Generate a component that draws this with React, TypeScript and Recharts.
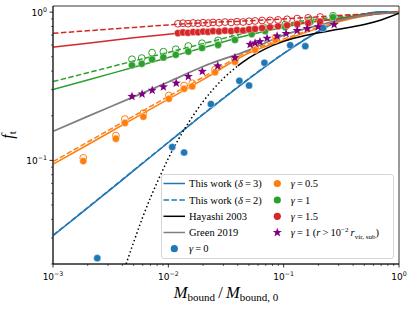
import React from 'react';
import { ComposedChart, Line, Scatter, XAxis, YAxis, Legend, ReferenceArea } from 'recharts';

// model curves, all sampled on the same bound-mass grid
const lineMass = [0.001, 0.002, 0.005, 0.01, 0.02, 0.05, 0.1, 0.2, 0.3, 0.5, 0.7, 1];
const blueDelta3 = [0.031, 0.0478, 0.0852, 0.132, 0.204, 0.355, 0.525, 0.74, 0.87, 0.97, 1.005, 1.0];
const blueDelta2 = [0.0312, 0.0481, 0.0857, 0.1327, 0.205, 0.357, 0.527, 0.742, 0.872, 0.971, 1.005, 1.0];
const orangeDelta3 = [0.094, 0.1275, 0.191, 0.259, 0.351, 0.53, 0.645, 0.78, 0.86, 0.94, 0.98, 1.0];
const orangeDelta2 = [0.098, 0.133, 0.199, 0.27, 0.364, 0.545, 0.66, 0.79, 0.865, 0.945, 0.98, 1.0];
const greenDelta3 = [0.3, 0.348, 0.425, 0.494, 0.575, 0.7, 0.79, 0.87, 0.91, 0.96, 0.985, 1.0];
const greenDelta2 = [0.34, 0.39, 0.468, 0.535, 0.613, 0.735, 0.83, 0.9, 0.93, 0.97, 0.99, 1.0];
const redDelta3 = [0.58, 0.617, 0.671, 0.71, 0.745, 0.775, 0.82, 0.87, 0.9, 0.95, 0.98, 1.0];
const redDelta2 = [0.72, 0.749, 0.789, 0.82, 0.848, 0.875, 0.9, 0.93, 0.95, 0.97, 0.99, 1.0];
const green2019 = [0.157, 0.198, 0.268, 0.338, 0.43, 0.555, 0.7, 0.815, 0.88, 0.95, 0.98, 0.99];

const hayashiMass = [0.04, 0.05, 0.07, 0.1, 0.15, 0.2, 0.3, 0.5, 0.7, 1];
const hayashiFt = [0.434, 0.491, 0.568, 0.635, 0.693, 0.725, 0.766, 0.825, 0.886, 0.984];
const hayashiLowMass = [0.0043, 0.005, 0.006, 0.007, 0.008, 0.01, 0.012, 0.015, 0.02, 0.03, 0.04];
const hayashiLowFt = [0.02, 0.028, 0.0415, 0.056, 0.071, 0.103, 0.135, 0.18, 0.249, 0.357, 0.434];

// simulation points
const gamma0Mass = [0.00242, 0.0108, 0.0137, 0.0234, 0.0413, 0.0501, 0.0681, 0.114, 0.154, 0.22];
const gamma0Ft = [0.0219, 0.123, 0.113, 0.24, 0.344, 0.32, 0.455, 0.598, 0.589, 0.78];

const gamma05Mass = [0.00183, 0.00351, 0.0042, 0.00607, 0.0101, 0.0137, 0.0161, 0.0254, 0.0378, 0.0565, 0.085];
const gamma05Ft = [0.099, 0.14, 0.179, 0.197, 0.26, 0.304, 0.315, 0.393, 0.462, 0.556, 0.65];
const gamma05OpenFt = [0.104, 0.147, 0.19, 0.208, 0.274, 0.32, 0.331, 0.41, 0.48, 0.575, 0.67];

const gamma1Mass = [0.00484, 0.00588, 0.00723, 0.00906, 0.0116, 0.0149, 0.0196, 0.027, 0.0378, 0.0528, 0.069, 0.103, 0.17, 0.268];
const gamma1Ft = [0.438, 0.448, 0.48, 0.495, 0.515, 0.542, 0.573, 0.601, 0.649, 0.711, 0.745, 0.793, 0.857, 0.925];
const gamma1OpenFt = [0.481, 0.49, 0.533, 0.541, 0.562, 0.591, 0.617, 0.645, 0.69, 0.75, 0.78, 0.825, 0.885, 0.945];

const gamma15Mass = [0.0121, 0.0134, 0.0148, 0.0164, 0.0181, 0.02, 0.0221, 0.0244, 0.0275, 0.031, 0.035, 0.0394, 0.0445, 0.0501, 0.0565, 0.065, 0.0762, 0.0894, 0.107, 0.131, 0.163, 0.207];
const gamma15Ft = [0.722, 0.73, 0.726, 0.734, 0.731, 0.74, 0.736, 0.745, 0.741, 0.75, 0.746, 0.757, 0.752, 0.765, 0.77, 0.781, 0.79, 0.803, 0.815, 0.83, 0.845, 0.862];
const gamma15OpenFt = [0.835, 0.842, 0.836, 0.845, 0.84, 0.848, 0.843, 0.852, 0.848, 0.857, 0.852, 0.862, 0.858, 0.868, 0.872, 0.878, 0.88, 0.886, 0.895, 0.905, 0.915, 0.928];

const outerMass = [0.00484, 0.00592, 0.00725, 0.00906, 0.0117, 0.0149, 0.0197, 0.0268, 0.0378, 0.0512, 0.0565, 0.0623, 0.0718, 0.0877, 0.105, 0.131, 0.16, 0.199, 0.274];
const outerFt = [0.27, 0.28, 0.297, 0.313, 0.332, 0.368, 0.398, 0.434, 0.493, 0.605, 0.619, 0.632, 0.666, 0.69, 0.717, 0.751, 0.775, 0.797, 0.824];

const BLUE = '#1f77b4';
const ORANGE = '#ff7f0e';
const GREEN = '#2ca02c';
const RED = '#d62728';
const PURPLE = '#800080';
const GRAY = '#7f7f7f';
const DASH = '5.5 2.4';
const SERIF = '"Liberation Serif", "DejaVu Serif", serif';
const SANS = '"DejaVu Sans", sans-serif';

const zip = (m: number[], f: number[]) => m.map((v, i) => ({ m: v, f: f[i] }));

const logTicks = (lo: number, hi: number) => {
  const out: number[] = [];
  for (let e = lo; e < hi; e++) {
    for (let k = 1; k < 10; k++) out.push(Number((k * Math.pow(10, e)).toPrecision(3)));
  }
  out.push(Math.pow(10, hi));
  return out;
};
const xTicks = logTicks(-3, 0);
const yTicks = logTicks(-2, 0).filter((v) => v >= 0.02);

const isMajor = (v: number) => Math.abs(Math.log10(v) - Math.round(Math.log10(v))) < 1e-6;
const expOf = (v: number) => {
  const e = Math.round(Math.log10(v));
  return e < 0 ? `\u2212${-e}` : `${e}`;
};

const XTick = (props: any) => {
  const { x, y, payload } = props;
  const major = isMajor(payload.value);
  return (
    <g>
      <line x1={x} x2={x} y1={y} y2={y + (major ? 3.5 : 2)} stroke="#000" strokeWidth={major ? 0.8 : 0.6} />
      {major && (
        <text x={x} y={y + 15.5} textAnchor="middle" fontFamily={SANS} fontSize={9} fill="#000">
          10<tspan fontSize={6.3} dy={-4}>{expOf(payload.value)}</tspan>
        </text>
      )}
    </g>
  );
};

const YTick = (props: any) => {
  const { x, y, payload } = props;
  const major = isMajor(payload.value);
  return (
    <g>
      <line x1={x} x2={x - (major ? 3.5 : 2)} y1={y} y2={y} stroke="#000" strokeWidth={major ? 0.8 : 0.6} />
      {major && (
        <text x={x - 6} y={y + 3.5} textAnchor="end" fontFamily={SANS} fontSize={9} fill="#000">
          10<tspan fontSize={6.3} dy={-4}>{expOf(payload.value)}</tspan>
        </text>
      )}
    </g>
  );
};

const XTitle = (props: any) => {
  const { viewBox } = props;
  const cx = viewBox.x + viewBox.width / 2;
  const by = viewBox.y + 34;
  return (
    <text x={cx} y={by} textAnchor="middle" fontFamily={SERIF} fill="#000">
      <tspan fontStyle="italic" fontSize={16.5}>M</tspan>
      <tspan fontSize={11} dy={3}>bound</tspan>
      <tspan fontSize={16.5} dy={-3}>{'\u2009/\u2009'}</tspan>
      <tspan fontStyle="italic" fontSize={16.5}>M</tspan>
      <tspan fontSize={11} dy={3}>bound, 0</tspan>
    </text>
  );
};

const YTitle = (props: any) => {
  const { viewBox } = props;
  const cy = viewBox.y + viewBox.height / 2;
  const x = 13;
  return (
    <text x={x} y={cy} transform={`rotate(-90, ${x}, ${cy})`} textAnchor="middle" fontFamily={SERIF} fill="#000">
      <tspan fontStyle="italic" fontSize={16}>f</tspan>
      <tspan fontSize={11} dy={3}>t</tspan>
    </text>
  );
};

const starPath = (cx: number, cy: number, R: number, r: number) => {
  let d = '';
  for (let i = 0; i < 10; i++) {
    const a = (-90 + i * 36) * (Math.PI / 180);
    const rad = i % 2 === 0 ? R : r;
    d += `${i === 0 ? 'M' : 'L'}${cx + rad * Math.cos(a)},${cy + rad * Math.sin(a)}`;
  }
  return d + 'Z';
};

const dot = (color: string) => (p: any) => (
  <circle cx={p.cx} cy={p.cy} r={3.6} fill={color} stroke="#fff" strokeWidth={0.4} />
);
const ring = (color: string) => (p: any) => (
  <circle cx={p.cx} cy={p.cy} r={3.4} fill="none" stroke={color} strokeWidth={1} />
);
const star = (p: any) => <path d={starPath(p.cx, p.cy, 4.8, 2)} fill={PURPLE} />;

const rows = [9.5, 26, 42.3, 58.5, 74.7];

const LegendBox = () => {
  const txt = { fontFamily: SERIF, fontSize: 10.5, fill: '#000' };
  const lineItems = [
    { color: BLUE, dash: undefined, label: <>This work (<tspan fontStyle="italic">δ</tspan>{'\u2009=\u20093)'}</> },
    { color: BLUE, dash: DASH, label: <>This work (<tspan fontStyle="italic">δ</tspan>{'\u2009=\u20092)'}</> },
    { color: '#000', dash: undefined, label: <>Hayashi 2003</> },
    { color: GRAY, dash: undefined, label: <>Green 2019</> },
  ];
  const pointItems = [
    { color: ORANGE, label: <><tspan fontStyle="italic">γ</tspan>{'\u2009=\u20090.5'}</> },
    { color: GREEN, label: <><tspan fontStyle="italic">γ</tspan>{'\u2009=\u20091'}</> },
    { color: RED, label: <><tspan fontStyle="italic">γ</tspan>{'\u2009=\u20091.5'}</> },
  ];
  return (
    <svg width={233} height={85} style={{ display: 'block' }}>
      <rect x={0.5} y={0.5} width={232} height={84} rx={2.5} fill="#fff" fillOpacity={0.85} stroke="#cccccc" strokeWidth={0.8} />
      {lineItems.map((it, i) => (
        <g key={`l${i}`}>
          <line x1={2.5} x2={24} y1={rows[i]} y2={rows[i]} stroke={it.color} strokeWidth={1.5} strokeDasharray={it.dash} />
          <text x={28} y={rows[i] + 3.6} {...txt}>{it.label}</text>
        </g>
      ))}
      <circle cx={13.3} cy={rows[4]} r={3.6} fill={BLUE} />
      <text x={28} y={rows[4] + 3.6} {...txt}>
        <tspan fontStyle="italic">γ</tspan>{'\u2009=\u20090'}
      </text>
      {pointItems.map((it, i) => (
        <g key={`p${i}`}>
          <circle cx={116.3} cy={rows[i]} r={3.6} fill={it.color} />
          <text x={129.7} y={rows[i] + 3.6} {...txt}>{it.label}</text>
        </g>
      ))}
      <path d={starPath(116.3, rows[3], 4.8, 2)} fill={PURPLE} />
      <text x={129.7} y={rows[3] + 3.6} {...txt}>
        <tspan fontStyle="italic">γ</tspan>{'\u2009=\u20091 ('}
        <tspan fontStyle="italic">r</tspan>{'\u2009>\u200910'}
        <tspan fontSize={7} dy={-4}>{'\u22122'}</tspan>
        <tspan fontStyle="italic" dy={4}>{'\u2009r'}</tspan>
        <tspan fontSize={7} dy={2.5}>vir, sub</tspan>
        <tspan dy={-2.5}>)</tspan>
      </text>
    </svg>
  );
};

export default function App() {
  return (
    <div style={{ position: 'absolute', left: 0, top: 0, width: 415, height: 309, background: '#fff' }}>
      <ComposedChart width={415} height={309} margin={{ top: 6, right: 16, bottom: 0, left: 0 }}>
        <XAxis
          dataKey="m"
          type="number"
          scale="log"
          domain={[0.001, 1]}
          allowDataOverflow
          ticks={xTicks}
          interval={0}
          height={45}
          tickSize={0}
          tickMargin={0}
          tickLine={false}
          axisLine={{ stroke: '#000', strokeWidth: 0.8 }}
          tick={<XTick />}
          label={<XTitle />}
        />
        <YAxis
          dataKey="f"
          type="number"
          scale="log"
          domain={[0.02, 1.1]}
          allowDataOverflow
          ticks={yTicks}
          interval={0}
          width={53}
          tickSize={0}
          tickMargin={0}
          tickLine={false}
          axisLine={{ stroke: '#000', strokeWidth: 0.8 }}
          tick={<YTick />}
          label={<YTitle />}
        />
        <ReferenceArea x1={0.001} x2={1} y1={0.02} y2={1.1} fill="none" stroke="#000" strokeWidth={0.8} fillOpacity={0} />

        <Line data={zip(lineMass, blueDelta3)} dataKey="f" type="monotone" stroke={BLUE} strokeWidth={1.5} dot={false} activeDot={false} isAnimationActive={false} />
        <Line data={zip(lineMass, blueDelta2)} dataKey="f" type="monotone" stroke={BLUE} strokeWidth={1.5} strokeDasharray={DASH} dot={false} activeDot={false} isAnimationActive={false} />
        <Line data={zip(lineMass, orangeDelta3)} dataKey="f" type="monotone" stroke={ORANGE} strokeWidth={1.5} dot={false} activeDot={false} isAnimationActive={false} />
        <Line data={zip(lineMass, orangeDelta2)} dataKey="f" type="monotone" stroke={ORANGE} strokeWidth={1.5} strokeDasharray={DASH} dot={false} activeDot={false} isAnimationActive={false} />
        <Line data={zip(lineMass, greenDelta3)} dataKey="f" type="monotone" stroke={GREEN} strokeWidth={1.5} dot={false} activeDot={false} isAnimationActive={false} />
        <Line data={zip(lineMass, greenDelta2)} dataKey="f" type="monotone" stroke={GREEN} strokeWidth={1.5} strokeDasharray={DASH} dot={false} activeDot={false} isAnimationActive={false} />
        <Line data={zip(lineMass, redDelta3)} dataKey="f" type="monotone" stroke={RED} strokeWidth={1.5} dot={false} activeDot={false} isAnimationActive={false} />
        <Line data={zip(lineMass, redDelta2)} dataKey="f" type="monotone" stroke={RED} strokeWidth={1.5} strokeDasharray={DASH} dot={false} activeDot={false} isAnimationActive={false} />
        <Line data={zip(lineMass, green2019)} dataKey="f" type="monotone" stroke={GRAY} strokeWidth={1.8} dot={false} activeDot={false} isAnimationActive={false} />
        <Line data={zip(hayashiMass, hayashiFt)} dataKey="f" type="monotone" stroke="#000" strokeWidth={1.5} dot={false} activeDot={false} isAnimationActive={false} />
        <Line data={zip(hayashiLowMass, hayashiLowFt)} dataKey="f" type="monotone" stroke="#000" strokeWidth={1.5} strokeDasharray="1.5 2.5" dot={false} activeDot={false} isAnimationActive={false} />

        <Scatter data={zip(gamma0Mass, gamma0Ft)} dataKey="f" shape={dot(BLUE)} isAnimationActive={false} />
        <Scatter data={zip(gamma05Mass, gamma05OpenFt)} dataKey="f" shape={ring(ORANGE)} isAnimationActive={false} />
        <Scatter data={zip(gamma05Mass, gamma05Ft)} dataKey="f" shape={dot(ORANGE)} isAnimationActive={false} />
        <Scatter data={zip(gamma1Mass, gamma1OpenFt)} dataKey="f" shape={ring(GREEN)} isAnimationActive={false} />
        <Scatter data={zip(gamma1Mass, gamma1Ft)} dataKey="f" shape={dot(GREEN)} isAnimationActive={false} />
        <Scatter data={zip(gamma15Mass, gamma15OpenFt)} dataKey="f" shape={ring(RED)} isAnimationActive={false} />
        <Scatter data={zip(gamma15Mass, gamma15Ft)} dataKey="f" shape={dot(RED)} isAnimationActive={false} />
        <Scatter data={zip(outerMass, outerFt)} dataKey="f" shape={star} isAnimationActive={false} />

        <Legend
          layout="vertical"
          verticalAlign="middle"
          align="center"
          content={() => <LegendBox />}
          wrapperStyle={{ position: 'absolute', left: 161, top: 174, width: 233, height: 85, margin: 0, padding: 0 }}
        />
      </ComposedChart>
    </div>
  );
}
